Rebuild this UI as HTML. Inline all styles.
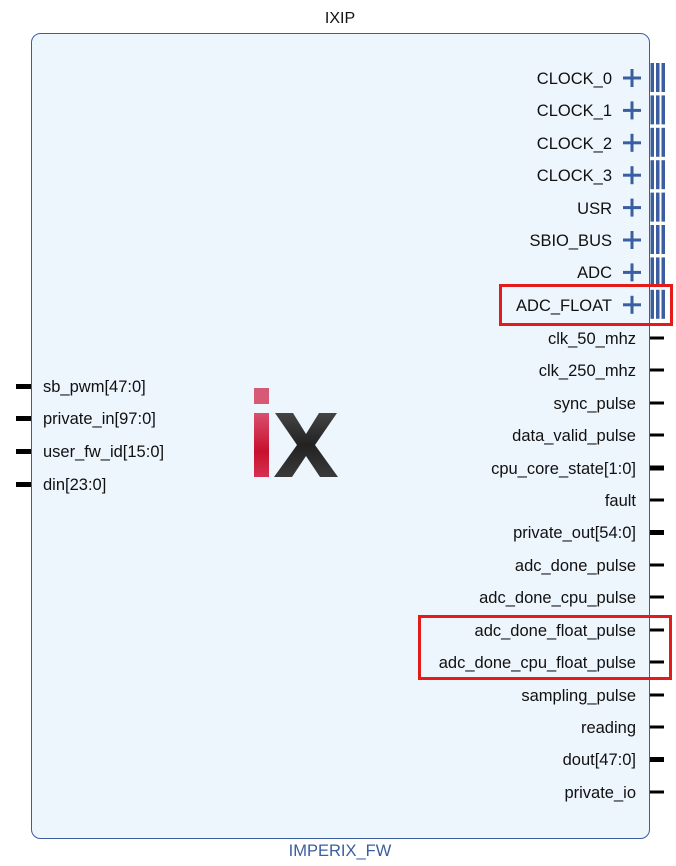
<!DOCTYPE html>
<html><head><meta charset="utf-8"><style>
html,body{margin:0;padding:0;background:#fff;}
svg{display:block;font-family:"Liberation Sans",Arial,sans-serif;}
</style></head><body>
<svg width="676" height="866" viewBox="0 0 676 866" xmlns="http://www.w3.org/2000/svg">
<defs>
<linearGradient id="gi" x1="0" y1="0" x2="0" y2="1"><stop offset="0" stop-color="#d8506e"/><stop offset="0.6" stop-color="#c8102e"/><stop offset="1" stop-color="#d63050"/></linearGradient>
<linearGradient id="gx" x1="0" y1="0" x2="0" y2="1"><stop offset="0" stop-color="#444"/><stop offset="0.5" stop-color="#222"/><stop offset="1" stop-color="#3a3a3a"/></linearGradient>
</defs>
<text x="340" y="23" font-size="16" text-anchor="middle" fill="#111">IXIP</text>
<rect x="31.5" y="33.5" width="618" height="805" rx="9" fill="#edf5fd" stroke="#3b5ea0" stroke-width="1"/>
<text x="340" y="856" font-size="16.5" text-anchor="middle" fill="#3b5ea0">IMPERIX_FW</text>
<rect x="254" y="388" width="15" height="16" fill="#d65a75"/>
<rect x="254" y="413" width="15" height="64" fill="url(#gi)"/>
<polygon points="275,413 293,413 306,434 319,413 337,413 315,445 338,477 320,477 306,456 292,477 274,477 297,445" fill="url(#gx)"/>
<g font-size="16.5" fill="#111">
<rect x="16" y="384" width="15" height="5" fill="#000"/><text x="43" y="392">sb_pwm[47:0]</text>
<rect x="16" y="416" width="15" height="5" fill="#000"/><text x="43" y="424">private_in[97:0]</text>
<rect x="16" y="449" width="15" height="5" fill="#000"/><text x="43" y="457">user_fw_id[15:0]</text>
<rect x="16" y="482" width="15" height="5" fill="#000"/><text x="43" y="490">din[23:0]</text>
</g>
<g font-size="16.5" fill="#111" text-anchor="end">
<text x="612" y="84">CLOCK_0</text>
<text x="612" y="116">CLOCK_1</text>
<text x="612" y="149">CLOCK_2</text>
<text x="612" y="181">CLOCK_3</text>
<text x="612" y="214">USR</text>
<text x="612" y="246">SBIO_BUS</text>
<text x="612" y="278">ADC</text>
<text x="612" y="311">ADC_FLOAT</text>
</g>
<g fill="#3b5ea0">
<g transform="translate(0,78)"><rect x="623" y="-1.5" width="18" height="3"/><rect x="630.5" y="-9" width="3" height="18"/><rect x="650.5" y="-15" width="3.5" height="29"/><rect x="656" y="-15" width="3.5" height="29"/><rect x="661.5" y="-15" width="3.5" height="29"/></g>
<g transform="translate(0,110.4)"><rect x="623" y="-1.5" width="18" height="3"/><rect x="630.5" y="-9" width="3" height="18"/><rect x="650.5" y="-15" width="3.5" height="29"/><rect x="656" y="-15" width="3.5" height="29"/><rect x="661.5" y="-15" width="3.5" height="29"/></g>
<g transform="translate(0,142.8)"><rect x="623" y="-1.5" width="18" height="3"/><rect x="630.5" y="-9" width="3" height="18"/><rect x="650.5" y="-15" width="3.5" height="29"/><rect x="656" y="-15" width="3.5" height="29"/><rect x="661.5" y="-15" width="3.5" height="29"/></g>
<g transform="translate(0,175.2)"><rect x="623" y="-1.5" width="18" height="3"/><rect x="630.5" y="-9" width="3" height="18"/><rect x="650.5" y="-15" width="3.5" height="29"/><rect x="656" y="-15" width="3.5" height="29"/><rect x="661.5" y="-15" width="3.5" height="29"/></g>
<g transform="translate(0,207.6)"><rect x="623" y="-1.5" width="18" height="3"/><rect x="630.5" y="-9" width="3" height="18"/><rect x="650.5" y="-15" width="3.5" height="29"/><rect x="656" y="-15" width="3.5" height="29"/><rect x="661.5" y="-15" width="3.5" height="29"/></g>
<g transform="translate(0,240)"><rect x="623" y="-1.5" width="18" height="3"/><rect x="630.5" y="-9" width="3" height="18"/><rect x="650.5" y="-15" width="3.5" height="29"/><rect x="656" y="-15" width="3.5" height="29"/><rect x="661.5" y="-15" width="3.5" height="29"/></g>
<g transform="translate(0,272.4)"><rect x="623" y="-1.5" width="18" height="3"/><rect x="630.5" y="-9" width="3" height="18"/><rect x="650.5" y="-15" width="3.5" height="29"/><rect x="656" y="-15" width="3.5" height="29"/><rect x="661.5" y="-15" width="3.5" height="29"/></g>
<g transform="translate(0,304.8)"><rect x="623" y="-1.5" width="18" height="3"/><rect x="630.5" y="-9" width="3" height="18"/><rect x="650.5" y="-15" width="3.5" height="29"/><rect x="656" y="-15" width="3.5" height="29"/><rect x="661.5" y="-15" width="3.5" height="29"/></g>
</g>
<g font-size="16.5" fill="#111" text-anchor="end">
<text x="636" y="344">clk_50_mhz</text>
<text x="636" y="376">clk_250_mhz</text>
<text x="636" y="409">sync_pulse</text>
<text x="636" y="441">data_valid_pulse</text>
<text x="636" y="474">cpu_core_state[1:0]</text>
<text x="636" y="506">fault</text>
<text x="636" y="538">private_out[54:0]</text>
<text x="636" y="571">adc_done_pulse</text>
<text x="636" y="603">adc_done_cpu_pulse</text>
<text x="636" y="636">adc_done_float_pulse</text>
<text x="636" y="668">adc_done_cpu_float_pulse</text>
<text x="636" y="701">sampling_pulse</text>
<text x="636" y="733">reading</text>
<text x="636" y="765">dout[47:0]</text>
<text x="636" y="798">private_io</text>
</g>
<g fill="#000">
<rect x="650" y="336.5" width="14" height="3"/>
<rect x="650" y="368.5" width="14" height="3"/>
<rect x="650" y="401.5" width="14" height="3"/>
<rect x="650" y="433.5" width="14" height="3"/>
<rect x="650" y="465.5" width="14" height="5"/>
<rect x="650" y="498.5" width="14" height="3"/>
<rect x="650" y="530" width="14" height="5"/>
<rect x="650" y="563.5" width="14" height="3"/>
<rect x="650" y="595.5" width="14" height="3"/>
<rect x="650" y="628.5" width="14" height="3"/>
<rect x="650" y="660.5" width="14" height="3"/>
<rect x="650" y="693.5" width="14" height="3"/>
<rect x="650" y="725.5" width="14" height="3"/>
<rect x="650" y="757" width="14" height="5"/>
<rect x="650" y="790.5" width="14" height="3"/>
</g>
<rect x="500.5" y="285.5" width="171" height="39" fill="none" stroke="#e31b1b" stroke-width="3"/>
<rect x="419.5" y="616.5" width="251" height="62" fill="none" stroke="#e31b1b" stroke-width="3"/>
</svg>
</body></html>
